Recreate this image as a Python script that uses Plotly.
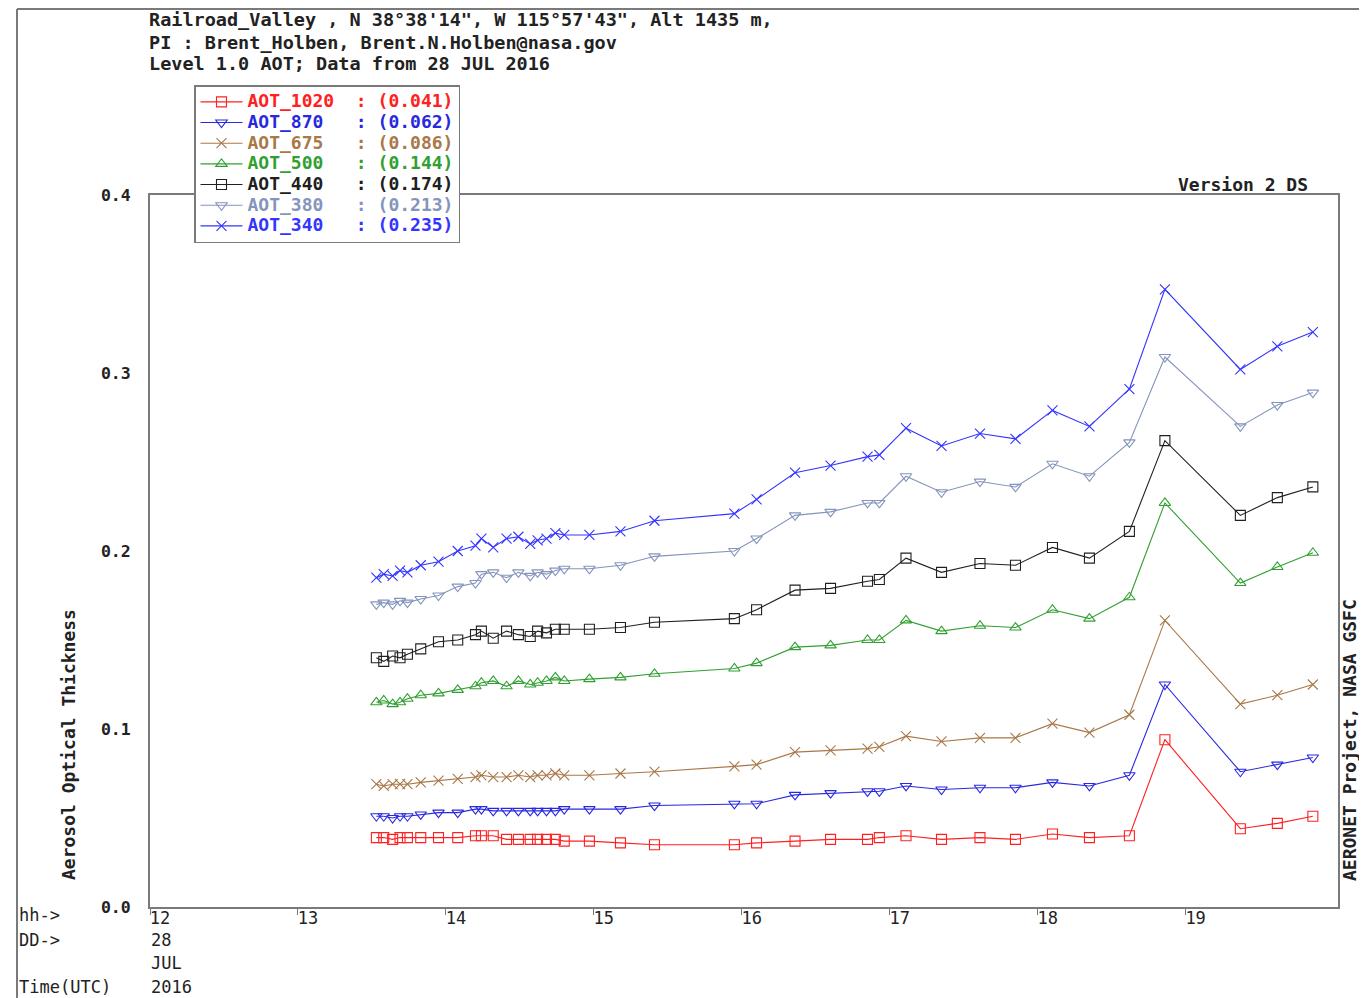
import plotly.graph_objects as go

# ---- data (hours UTC, 28 JUL 2016) ----
hours = [13.53, 13.58, 13.64, 13.69, 13.74, 13.83, 13.95, 14.08, 14.20, 14.24,
         14.32, 14.41, 14.49, 14.57, 14.62, 14.68, 14.74, 14.80, 14.97, 15.18,
         15.41, 15.95, 16.10, 16.36, 16.60, 16.85, 16.93, 17.11, 17.35, 17.61,
         17.85, 18.10, 18.35, 18.62, 18.86, 19.37, 19.62, 19.86]

aot_1020 = [0.039, 0.039, 0.038, 0.039, 0.039, 0.039, 0.039, 0.039, 0.040, 0.040,
            0.040, 0.038, 0.038, 0.038, 0.038, 0.038, 0.038, 0.037, 0.037, 0.036,
            0.035, 0.035, 0.036, 0.037, 0.038, 0.038, 0.039, 0.040, 0.038, 0.039,
            0.038, 0.041, 0.039, 0.040, 0.094, 0.044, 0.047, 0.051]
aot_870 = [0.051, 0.051, 0.050, 0.051, 0.051, 0.052, 0.053, 0.053, 0.055, 0.055,
           0.054, 0.054, 0.054, 0.054, 0.054, 0.054, 0.054, 0.055, 0.055, 0.055,
           0.057, 0.058, 0.058, 0.063, 0.064, 0.065, 0.065, 0.068, 0.066, 0.067,
           0.067, 0.070, 0.068, 0.074, 0.125, 0.076, 0.080, 0.084]
aot_675 = [0.069, 0.068, 0.069, 0.069, 0.069, 0.070, 0.071, 0.072, 0.073, 0.074,
           0.073, 0.073, 0.074, 0.073, 0.074, 0.074, 0.075, 0.074, 0.074, 0.075,
           0.076, 0.079, 0.080, 0.087, 0.088, 0.089, 0.090, 0.096, 0.093, 0.095,
           0.095, 0.103, 0.098, 0.108, 0.161, 0.114, 0.119, 0.125]
aot_500 = [0.115, 0.116, 0.114, 0.115, 0.117, 0.119, 0.120, 0.122, 0.124, 0.126,
           0.127, 0.124, 0.127, 0.125, 0.126, 0.127, 0.129, 0.127, 0.128, 0.129,
           0.131, 0.134, 0.137, 0.146, 0.147, 0.150, 0.150, 0.161, 0.155, 0.158,
           0.157, 0.167, 0.162, 0.174, 0.227, 0.182, 0.191, 0.199]
aot_440 = [0.140, 0.138, 0.141, 0.140, 0.142, 0.145, 0.149, 0.150, 0.153, 0.155,
           0.151, 0.155, 0.153, 0.152, 0.155, 0.154, 0.156, 0.156, 0.156, 0.157,
           0.160, 0.162, 0.167, 0.178, 0.179, 0.183, 0.184, 0.196, 0.188, 0.193,
           0.192, 0.202, 0.196, 0.211, 0.262, 0.220, 0.230, 0.236]
aot_380 = [0.170, 0.171, 0.170, 0.172, 0.171, 0.173, 0.175, 0.180, 0.182, 0.187,
           0.188, 0.185, 0.188, 0.186, 0.188, 0.187, 0.189, 0.190, 0.190, 0.192,
           0.197, 0.200, 0.207, 0.220, 0.222, 0.227, 0.227, 0.242, 0.233, 0.239,
           0.236, 0.249, 0.242, 0.261, 0.309, 0.270, 0.282, 0.289]
aot_340 = [0.185, 0.187, 0.186, 0.189, 0.188, 0.192, 0.194, 0.200, 0.203, 0.207,
           0.202, 0.207, 0.208, 0.204, 0.206, 0.207, 0.210, 0.209, 0.209, 0.211,
           0.217, 0.221, 0.229, 0.244, 0.248, 0.253, 0.254, 0.269, 0.259, 0.266,
           0.263, 0.279, 0.270, 0.291, 0.347, 0.302, 0.315, 0.323]

series_names = ["AOT_1020", "AOT_870", "AOT_675", "AOT_500", "AOT_440", "AOT_380", "AOT_340"]
series_means = ["0.041", "0.062", "0.086", "0.144", "0.174", "0.213", "0.235"]
series_values = [aot_1020, aot_870, aot_675, aot_500, aot_440, aot_380, aot_340]
series_colors = ["#ff2020", "#2828e0", "#a87848", "#30a030", "#202020", "#8494bc", "#3434ff"]
series_symbols = ["square-open", "triangle-down-open", "x-thin-open", "triangle-up-open",
                  "square-open", "triangle-down-open", "x-thin-open"]

x_ticks = [12, 13, 14, 15, 16, 17, 18, 19]
y_ticks = [0.0, 0.1, 0.2, 0.3, 0.4]

header_lines = [
    "Railroad_Valley , N 38°38'14\", W 115°57'43\", Alt 1435 m,",
    "PI : Brent_Holben, Brent.N.Holben@nasa.gov",
    "Level 1.0 AOT; Data from 28 JUL 2016",
]

FONT = "DejaVu Sans Mono"
NB = "\u00a0"
TXT = "#222222"

fig = go.Figure()
for name, mean, vals, col, sym in zip(series_names, series_means, series_values,
                                      series_colors, series_symbols):
    pad = NB * (10 - len(name))
    label = (f'<span style="color:{col};font-size:18px">'
             f'<b>{name}{pad}:{NB}({mean})</b></span>')
    fig.add_trace(go.Scatter(
        x=hours, y=vals, mode="lines+markers", name=label,
        line=dict(color=col, width=1.1),
        marker=dict(symbol=sym, size=10, color=col, line=dict(color=col, width=1.1)),
    ))

grey = "#7a7a7a"
# page body adds an 8px margin, so the figure is drawn 8px smaller
fig.update_layout(
    width=1359, height=990,
    margin=dict(l=142, r=29, t=187, b=91),
    paper_bgcolor="white", plot_bgcolor="white",
    font=dict(family=FONT, size=15, color=TXT),
    showlegend=True,
    legend=dict(x=(194 - 150) / 1188, y=(907 - 85) / 712, xanchor="left", yanchor="top",
                bgcolor="white", bordercolor=grey, borderwidth=1.5,
                font=dict(family=FONT, size=13.6), tracegroupgap=0,
                itemwidth=42),
    xaxis=dict(range=[12, 20.03], tickvals=x_ticks, ticktext=[str(t) for t in x_ticks],
               showgrid=False, zeroline=False, showline=True, linecolor=grey, linewidth=2,
               mirror=True, ticks="outside", ticklen=6, tickcolor=grey, tickwidth=1,
               ticklabelshift=10, ticklabelstandoff=-11,
               tickfont=dict(family=FONT, size=17, color=TXT)),
    yaxis=dict(range=[0, 0.4], tickvals=y_ticks, ticktext=[f"<b>{t:.1f}</b>" for t in y_ticks],
               showgrid=False, zeroline=False, showline=True, linecolor=grey, linewidth=2,
               mirror=True, ticks="", ticklabelstandoff=14,
               tickfont=dict(family=FONT, size=16.5, color=TXT)),
)

def px2x(px):
    return (px - 150) / 1188.0

def py2y(py):
    return (907 - py) / 712.0

anns = []
for line, py in zip(header_lines, [19, 42, 63]):
    anns.append(dict(text=f"<b>{line}</b>", x=px2x(147), y=py2y(py), xanchor="left",
                     yanchor="middle", font=dict(family=FONT, size=18.5, color=TXT)))
anns.append(dict(text="<b>Version 2 DS</b>", x=px2x(1310), y=py2y(184), xanchor="right",
                 yanchor="middle", font=dict(family=FONT, size=18, color=TXT)))
anns.append(dict(text="<b>Aerosol Optical Thickness</b>", x=px2x(68), y=py2y(745),
                 xanchor="center", yanchor="middle", textangle=-90,
                 font=dict(family=FONT, size=18, color=TXT)))
anns.append(dict(text="<b>AERONET Project, NASA GSFC</b>", x=px2x(1349), y=py2y(740),
                 xanchor="center", yanchor="middle", textangle=-90,
                 font=dict(family=FONT, size=18, color=TXT)))
for txt, py in [("hh->", 915), ("DD->", 940), ("Time(UTC)", 987)]:
    anns.append(dict(text=txt, x=px2x(17), y=py2y(py), xanchor="left", yanchor="middle",
                     font=dict(family=FONT, size=17, color=TXT)))
for txt, py in [("28", 940), ("JUL", 963), ("2016", 987)]:
    anns.append(dict(text=txt, x=px2x(149), y=py2y(py), xanchor="left", yanchor="middle",
                     font=dict(family=FONT, size=17, color=TXT)))
for a in anns:
    a.update(xref="paper", yref="paper", showarrow=False)
fig.update_layout(annotations=anns)

# outer frame lines (left and top edges of the page)
fig.add_shape(type="line", xref="paper", yref="paper", x0=px2x(17), x1=px2x(1367),
              y0=py2y(9), y1=py2y(9), line=dict(color=grey, width=2))
fig.add_shape(type="line", xref="paper", yref="paper", x0=px2x(17), x1=px2x(17),
              y0=py2y(9), y1=py2y(998), line=dict(color=grey, width=2))

fig.write_html("out.html")
